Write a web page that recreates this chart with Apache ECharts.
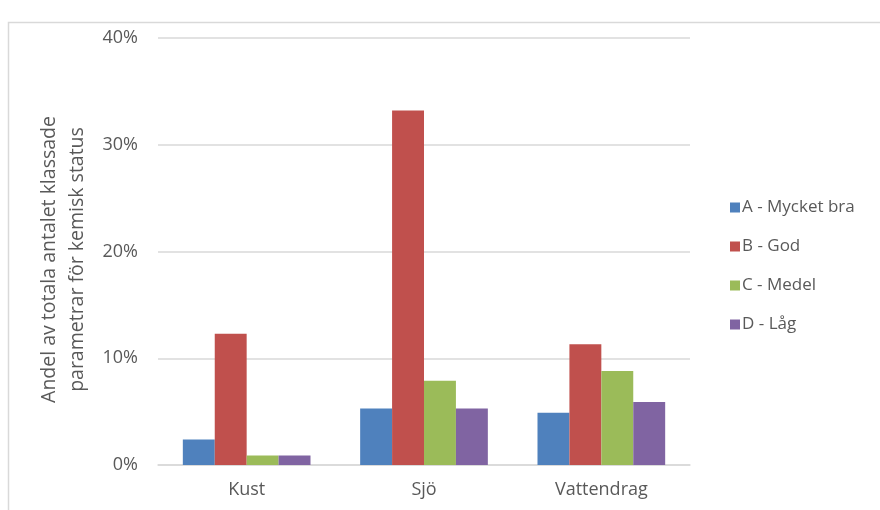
<!DOCTYPE html>
<html>
<head>
<meta charset="utf-8">
<script src="https://cdn.jsdelivr.net/npm/echarts@6/dist/echarts.min.js"></script>
<style>
html,body{margin:0;padding:0;background:#fff;}
#main{width:880px;height:510px;}
</style>
</head>
<body>
<div id="main"></div>
<script>
const categories = ['Kust', 'Sjö', 'Vattendrag'];
const seriesNames = ['A - Mycket bra', 'B - God', 'C - Medel', 'D - Låg'];
const valuesA = [2.4, 5.3, 4.9];
const valuesB = [12.3, 33.2, 11.3];
const valuesC = [0.9, 7.9, 8.8];
const valuesD = [0.9, 5.3, 5.9];
const colors = ['#4F81BD', '#C0504D', '#9BBB59', '#8064A2'];
const yTitle = 'Andel av totala antalet klassade\nparametrar för kemisk status';

const allValues = [valuesA, valuesB, valuesC, valuesD];
const font = 'Open Sans';
const chart = echarts.init(document.getElementById('main'));
chart.setOption({
  animation: false,
  backgroundColor: '#fff',
  color: colors,
  graphic: [{
    type: 'rect',
    shape: { x: 8.5, y: 22.5, width: 900, height: 600 },
    style: { fill: 'none', stroke: '#d9d9d9', lineWidth: 1.5 },
    silent: true
  }],
  grid: { left: 158, right: 190, top: 38, bottom: 45 },
  legend: {
    orient: 'vertical',
    left: 725,
    top: 194,
    itemWidth: 10,
    itemHeight: 10,
    itemGap: 22,
    icon: 'rect',
    textStyle: { color: '#595959', fontSize: 17, fontFamily: font, padding: [0, 0, 0, -3] },
    data: seriesNames
  },
  xAxis: {
    type: 'category',
    data: categories,
    axisLine: { show: true, lineStyle: { color: '#d9d9d9', width: 1.5 } },
    axisTick: { show: false },
    axisLabel: { color: '#595959', fontSize: 18, fontFamily: font, margin: 16 }
  },
  yAxis: {
    type: 'value',
    min: 0, max: 40, interval: 10,
    name: yTitle,
    nameLocation: 'middle',
    nameGap: 62,
    nameRotate: 90,
    nameTextStyle: { color: '#595959', fontSize: 19.5, fontFamily: font, lineHeight: 28, align: 'center', padding: [0, 16, 0, 0] },
    axisLine: { show: false },
    axisTick: { show: false },
    axisLabel: { color: '#595959', fontSize: 18, fontFamily: font, margin: 20, formatter: v => v + '%' },
    splitLine: { lineStyle: { color: '#d9d9d9', width: 1.5 } }
  },
  series: seriesNames.map((n, i) => ({
    name: n,
    type: 'bar',
    data: allValues[i],
    barGap: '0%',
    barCategoryGap: '28%',
    itemStyle: { color: colors[i] }
  }))
});
</script>
</body>
</html>
